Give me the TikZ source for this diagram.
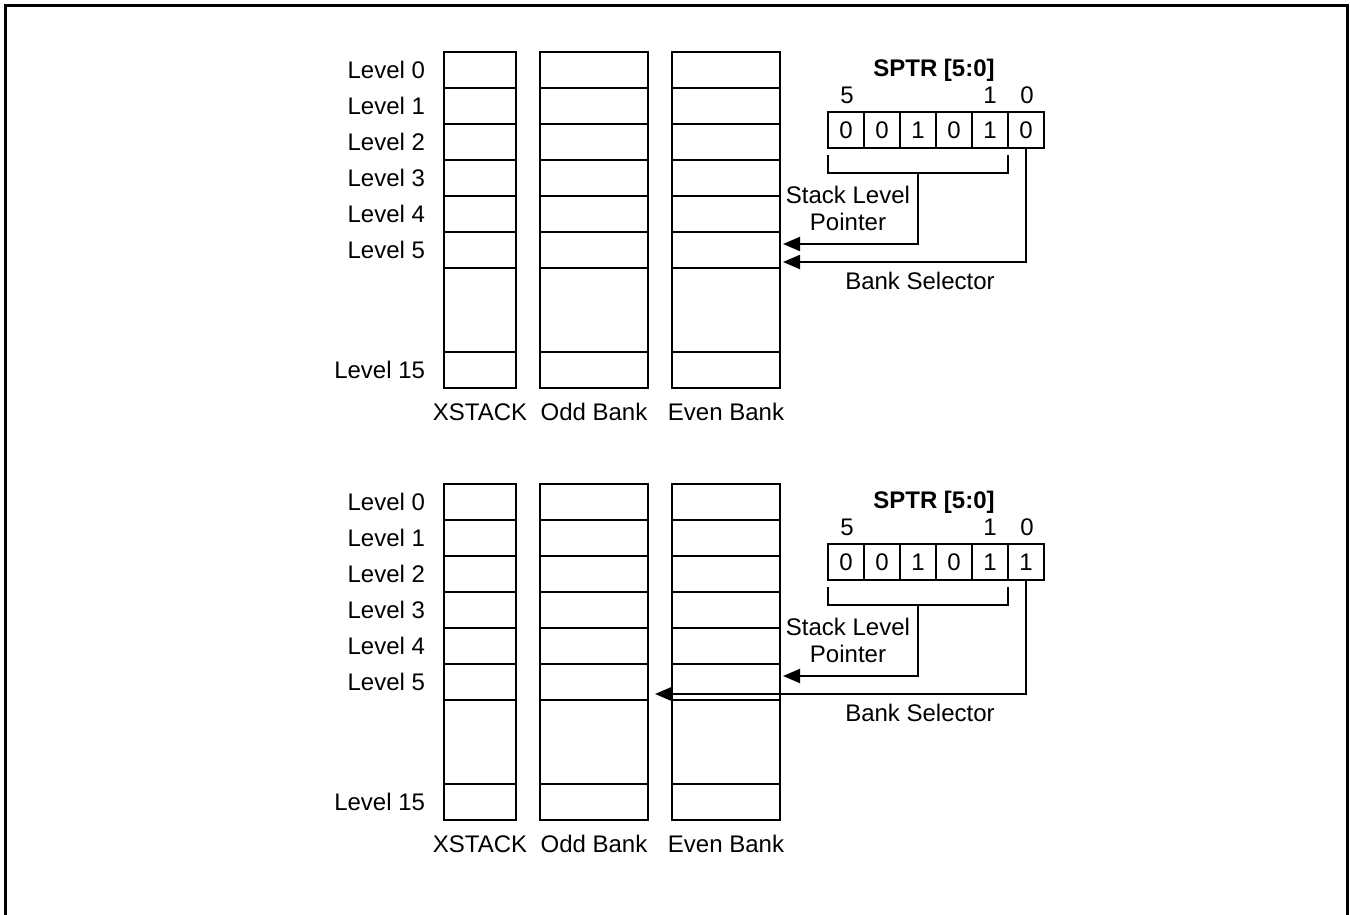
\documentclass[tikz,border=0pt]{standalone}
\usepackage{fontspec}
\setmainfont{Liberation Sans}
\usetikzlibrary{arrows.meta}

\tikzset{
  lvl/.style={anchor=east, inner sep=0pt},
  bitcell/.style={draw, minimum width=18pt, minimum height=18pt, inner sep=0pt},
  ptr/.style={-{Triangle[length=8.5pt,width=7pt]}},
}

\begin{document}
\begin{tikzpicture}[x=0.5pt,y=-0.5pt,line width=1pt,font=\fontsize{12}{13.5}\selectfont]
\useasboundingbox (0,0) rectangle (1350,915);
% outer frame, open at the bottom
\draw[line width=1.5pt] (5.5,915) -- (5.5,5.5) -- (1347.5,5.5) -- (1347.5,915);

\foreach \p/\oy/\sel/\tip in {a/0/0/783, b/432/1/655}{
  \begin{scope}[yshift=-\oy*0.5pt]
    % the three stacks
    \foreach \xa/\xb/\name in {444/516/XSTACK, 540/648/Odd Bank, 672/780/Even Bank}{
      \draw (\xa,52) rectangle (\xb,388);
      \foreach \yy in {88,124,160,196,232,268,352}
        \draw (\xa,\yy) -- (\xb,\yy);
      \node[inner sep=0pt] (\p-col\xa) at ({(\xa+\xb)/2},412) {\name};
    }
    \foreach \i in {0,...,5}
      \node[lvl] (\p-l\i) at (426,70+36*\i) {Level \i};
    \node[lvl] (\p-l15) at (426,370) {Level 15};

    % SPTR register
    \node[font=\bfseries\fontsize{12}{13.5}\selectfont] (\p-title) at (934,70) {SPTR [5:0]};
    \foreach \b/\v in {5/0,4/0,3/1,2/0,1/1,0/\sel}
      \node[bitcell] (\p-b\b) at (1026-36*\b,130) {\v};
    \node (\p-n5) at (847,95) {5};
    \node (\p-n1) at (990,95) {1};
    \node (\p-n0) at (1027,95) {0};

    % bracket over bits 5..1
    \draw (828,155) -- (828,173) -- (1008,173) -- (1008,155);
    \coordinate (\p-slp) at (918,173);
    \coordinate (\p-lvl5) at (783,244);
    \coordinate (\p-bank) at (\tip,262);
    \draw[ptr] (\p-slp) |- (\p-lvl5);
    \draw[ptr] (\p-b0.south) |- (\p-bank);
    \node[align=center] (\p-slpl) at (848,208) {Stack Level\\Pointer};
    \node (\p-bsl) at (920,281) {Bank Selector};
  \end{scope}
}
\end{tikzpicture}
\end{document}
